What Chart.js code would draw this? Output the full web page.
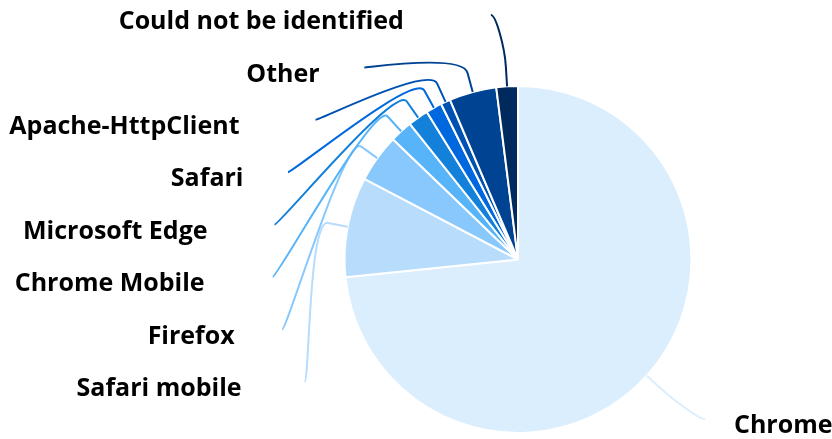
<!DOCTYPE html>
<html>
<head>
<meta charset="utf-8">
<script src="https://cdn.jsdelivr.net/npm/chart.js@4/dist/chart.umd.min.js"></script>
<style>
  html, body { margin: 0; padding: 0; background: #fff; }
</style>
</head>
<body>
<canvas id="browserPie" width="832" height="439"></canvas>
<script>
const browserLabels = ['Chrome', 'Safari mobile', 'Firefox', 'Chrome Mobile', 'Microsoft Edge', 'Safari', 'Apache-HttpClient', 'Other', 'Could not be identified'];
const browserShare = [73.3, 9.3, 4.5, 2.1, 1.9, 1.5, 0.9, 4.4, 2.0];
const browserColors = ['#dbeefe', '#b7dcfc', '#88c8fc', '#58b4f9', '#1380da', '#0068df', '#0052b2', '#004393', '#002a5d'];

// labels outside the pie with soft connector lines
const outLabels = {
    id: 'outLabels',
    afterDatasetsDraw(chart, args, opts) {
        const ctx = chart.ctx;
        const meta = chart.getDatasetMeta(0);
        const items = meta.data.map((arc, i) => {
            const p = arc.getProps(['x', 'y', 'startAngle', 'endAngle', 'outerRadius'], true);
            const mid = (p.startAngle + p.endAngle) / 2;
            const R = p.outerRadius + opts.distance;
            return { i, p, mid, R, left: Math.cos(mid) < 0, y: p.y + R * Math.sin(mid) };
        });

        // push crowded labels apart
        [true, false].forEach(side => {
            const group = items.filter(it => it.left === side).sort((a, b) => a.y - b.y);
            let prev = -Infinity;
            group.forEach(it => {
                it.y = Math.max(it.y, opts.top, prev + opts.spacing);
                prev = it.y;
            });
        });

        ctx.save();
        ctx.font = opts.font;
        ctx.textBaseline = 'middle';
        ctx.textAlign = 'left';
        items.forEach(it => {
            const { p, mid, R } = it;
            const dir = it.left ? -1 : 1;
            const ey = it.y - 5;
            const dy = Math.max(-R, Math.min(R, ey - p.y));
            const ex = p.x + dir * Math.sqrt(R * R - dy * dy);
            const tx = p.x + p.outerRadius * Math.cos(mid);
            const ty = p.y + p.outerRadius * Math.sin(mid);
            const br = p.outerRadius + opts.breakAt;
            const bx = p.x + br * Math.cos(mid);
            const by = p.y + br * Math.sin(mid);

            ctx.beginPath();
            ctx.moveTo(ex, ey);
            ctx.bezierCurveTo(ex - dir * 5, ey, 2 * bx - tx, 2 * by - ty, bx, by);
            ctx.lineTo(tx, ty);
            ctx.strokeStyle = browserColors[it.i];
            ctx.lineWidth = 2;
            ctx.stroke();

            const label = chart.data.labels[it.i];
            const w = ctx.measureText(label).width;
            const x = it.left ? ex - opts.pad - 1.2 * w : ex + opts.padRight;
            ctx.fillStyle = '#000';
            ctx.fillText(label, x, it.y + 2);
        });
        ctx.restore();
    }
};

const ctx = document.getElementById('browserPie').getContext('2d');

const browserPie = new Chart(ctx, {
    type: 'pie',
    data: {
        labels: browserLabels,
        datasets: [{
            data: browserShare,
            backgroundColor: browserColors,
            borderColor: '#ffffff',
            borderWidth: 2
        }]
    },
    options: {
        responsive: false,
        animation: false,
        layout: {
            padding: { left: 204, right: 0, top: 85, bottom: 5 }
        },
        plugins: {
            legend: { display: false },
            tooltip: { enabled: false },
            outLabels: {
                font: 'bold 25px "Open Sans"',
                distance: 72.5,
                breakAt: 20,
                top: 20,
                spacing: 52.4,
                pad: 30,
                padRight: 29
            }
        }
    },
    plugins: [outLabels]
});
</script>
</body>
</html>
